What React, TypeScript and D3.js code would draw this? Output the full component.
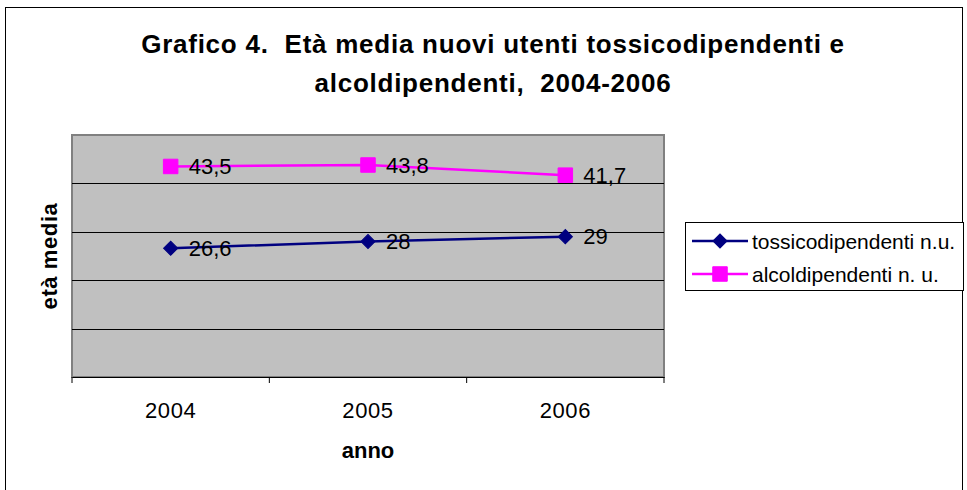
import React, { useEffect, useRef } from "react";
import * as d3 from "d3";

const anni = ["2004", "2005", "2006"];
const tossico = [26.6, 28, 29];
const alcol = [43.5, 43.8, 41.7];
const serie = [
  { nome: "tossicodipendenti n.u.", valori: tossico, colore: "#000080", forma: "diamond" },
  { nome: "alcoldipendenti n. u.", valori: alcol, colore: "#FF00FF", forma: "square" },
];
const yTicks = [0, 10, 20, 30, 40, 50];
const titolo = ["Grafico 4.  Età media nuovi utenti tossicodipendenti e", "alcoldipendenti,  2004-2006"];

const W = 967;
const H = 490;
const margin = { top: 135, right: 303, bottom: 113, left: 72 };
const font = "Arial, 'Liberation Sans', sans-serif";

export default function App() {
  const ref = useRef<SVGSVGElement>(null);

  useEffect(() => {
    const svg = d3.select(ref.current);
    svg.selectAll("*").remove();

    // cornice esterna
    svg.append("rect")
      .attr("x", 5.5).attr("y", 7.5).attr("width", 957).attr("height", 490)
      .attr("fill", "white").attr("stroke", "black").attr("stroke-width", 1);

    const x = d3.scaleBand().domain(anni).range([margin.left, W - margin.right]);
    const y = d3.scaleLinear().domain([0, 50]).range([H - margin.bottom, margin.top]);

    // titolo
    svg.append("g")
      .selectAll("text")
      .data(titolo)
      .join("text")
      .attr("x", 493).attr("y", (_, i) => 53 + i * 39)
      .attr("text-anchor", "middle")
      .style("white-space", "pre")
      .attr("font-family", font).attr("font-weight", "bold").attr("font-size", 26)
      .attr("letter-spacing", 0.75)
      .text(d => d);

    // area del grafico
    svg.append("rect")
      .attr("x", margin.left).attr("y", y(50))
      .attr("width", W - margin.right - margin.left).attr("height", y(0) - y(50))
      .attr("fill", "#C0C0C0").attr("stroke", "#808080").attr("stroke-width", 2);

    svg.append("g")
      .selectAll("line")
      .data(yTicks.slice(1, -1))
      .join("line")
      .attr("x1", margin.left).attr("x2", W - margin.right)
      .attr("y1", d => Math.round(y(d)) + 0.5).attr("y2", d => Math.round(y(d)) + 0.5)
      .attr("stroke", "black").attr("stroke-width", 1);

    // asse x
    const ax = svg.append("g")
      .attr("transform", `translate(0,${y(0)})`)
      .call(d3.axisBottom(x).tickSize(0).tickPadding(25));
    ax.select(".domain").attr("stroke", "black");
    ax.selectAll(".tick text")
      .attr("font-family", font).attr("font-size", 22).attr("letter-spacing", 0.6)
      .attr("fill", "black");
    const bordi = [...anni.map(a => x(a)!), W - margin.right];
    ax.selectAll(".sep")
      .data(bordi)
      .join("line")
      .attr("x1", d => d).attr("x2", d => d)
      .attr("y1", 0).attr("y2", 6)
      .attr("stroke", "black");

    svg.append("text")
      .attr("x", x("2005")! + x.bandwidth() / 2).attr("y", 458)
      .attr("text-anchor", "middle")
      .attr("font-family", font).attr("font-weight", "bold").attr("font-size", 22)
      .text("anno");

    svg.append("text")
      .attr("transform", `translate(57,${(y(0) + y(50)) / 2}) rotate(-90)`)
      .attr("text-anchor", "middle")
      .attr("font-family", font).attr("font-weight", "bold").attr("font-size", 22)
      .attr("letter-spacing", 0.6)
      .text("età media");

    const cx = (a: string) => x(a)! + x.bandwidth() / 2;
    const line = d3.line<number>()
      .x((_, i) => cx(anni[i]))
      .y(d => y(d));

    const simbolo = (g: any, forma: string, colore: string) => {
      const p = g.append("path")
        .attr("d", d3.symbol(d3.symbolSquare, forma === "diamond" ? 100 : 210)())
        .attr("fill", colore).attr("stroke", colore).attr("stroke-width", 1);
      if (forma === "diamond") p.attr("transform", "rotate(45)");
    };

    serie.forEach(s => {
      svg.append("path")
        .datum(s.valori)
        .attr("d", line)
        .attr("fill", "none")
        .attr("stroke", s.colore)
        .attr("stroke-width", 2.5);

      s.valori.forEach((v, i) => {
        const g = svg.append("g").attr("transform", `translate(${cx(anni[i])},${y(v)})`);
        simbolo(g, s.forma, s.colore);
      });

      svg.append("g")
        .selectAll("text")
        .data(s.valori)
        .join("text")
        .attr("x", (_, i) => cx(anni[i]) + 18)
        .attr("y", d => y(d) + 7.5)
        .attr("font-family", font).attr("font-size", 22)
        .text(d => String(d).replace(".", ","));
    });

    // legenda
    const leg = svg.append("g");
    leg.append("rect")
      .attr("x", 685.5).attr("y", 222.5).attr("width", 278).attr("height", 68)
      .attr("fill", "white").attr("stroke", "black").attr("stroke-width", 1);
    serie.forEach((s, i) => {
      const ly = 241 + i * 33;
      leg.append("line")
        .attr("x1", 692).attr("x2", 748).attr("y1", ly).attr("y2", ly)
        .attr("stroke", s.colore).attr("stroke-width", 2.5);
      const g = leg.append("g").attr("transform", `translate(720,${ly})`);
      simbolo(g, s.forma, s.colore);
      leg.append("text")
        .attr("x", 752).attr("y", ly + 7.5)
        .attr("font-family", font).attr("font-size", 21)
        .text(s.nome);
    });
  }, []);

  return (
    <div style={{ position: "absolute", left: 0, top: 0 }}>
      <svg ref={ref} width={W} height={H} style={{ display: "block" }} />
    </div>
  );
}
